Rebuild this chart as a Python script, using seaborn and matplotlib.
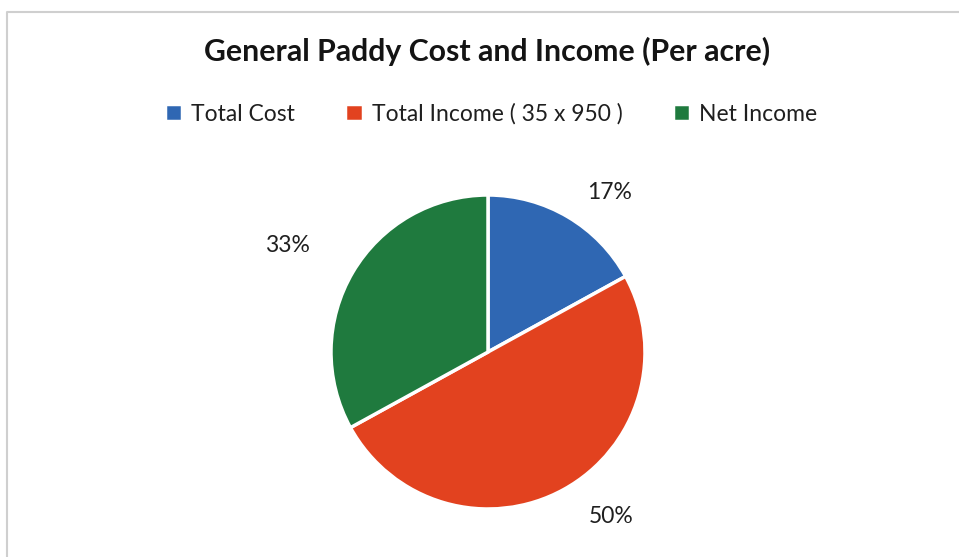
import numpy as np
import matplotlib
matplotlib.use("Agg")
import matplotlib.pyplot as plt
import seaborn as sns

# Per-acre figures for general paddy, shown as shares of the whole
categories = ["Total Cost", "Total Income ( 35 x 950 )", "Net Income"]
shares = [17, 50, 33]
colors = ["#2F67B3", "#E2421F", "#1F7A3E"]
title = "General Paddy Cost and Income (Per acre)"

sns.set_theme(style="white")
plt.rcParams["font.family"] = ["Lato", "DejaVu Sans"]

W, H = 959, 557
fig = plt.figure(figsize=(W / 100, H / 100), dpi=100)
fig.patch.set_facecolor("white")

# light chart-area frame
frame = fig.add_axes([0, 0, 1, 1], zorder=-1)
frame.set_xlim(0, W)
frame.set_ylim(H, 0)
frame.plot([6.5, 6.5, W], [H, 11.5, 11.5], color="#cfcfcf", lw=1.5)
frame.axis("off")

# pie axes centred on the plot area
cx, cy, r = 488, 352, 157
k = 1.5
half = r * k
ax = fig.add_axes([(cx - half) / W, (H - cy - half) / H, 2 * half / W, 2 * half / H])
wedges, _ = ax.pie(
    shares,
    colors=colors,
    startangle=90,
    counterclock=False,
    radius=1.0,
    wedgeprops=dict(edgecolor="white", linewidth=2.5),
)
ax.set_xlim(-k, k)
ax.set_ylim(-k, k)
ax.set_aspect("equal")
ax.axis("off")

# outside-end percentage labels
label_place = [(1.28, -6.7), (1.31, 8.0), (1.45, 2.6)]
for w, v, (rad, dang) in zip(wedges, shares, label_place):
    ang = np.deg2rad((w.theta1 + w.theta2) / 2 + dang)
    ax.text(rad * np.cos(ang), rad * np.sin(ang), f"{v}%",
            ha="center", va="center", fontsize=16.5, color="#1f1f1f")

fig.text(0.508, 1 - 51 / H, title, ha="center", va="center",
         fontsize=21.8, fontweight="bold", color="#141414")

fig.legend(wedges, categories, loc="center", bbox_to_anchor=(0.512, 1 - 114 / H),
           ncol=3, frameon=False, fontsize=16.5, handlelength=0.75, handleheight=0.75,
           handletextpad=0.4, columnspacing=2.2, labelcolor="#1f1f1f")

fig.savefig("out.png", dpi=100, facecolor="white")
